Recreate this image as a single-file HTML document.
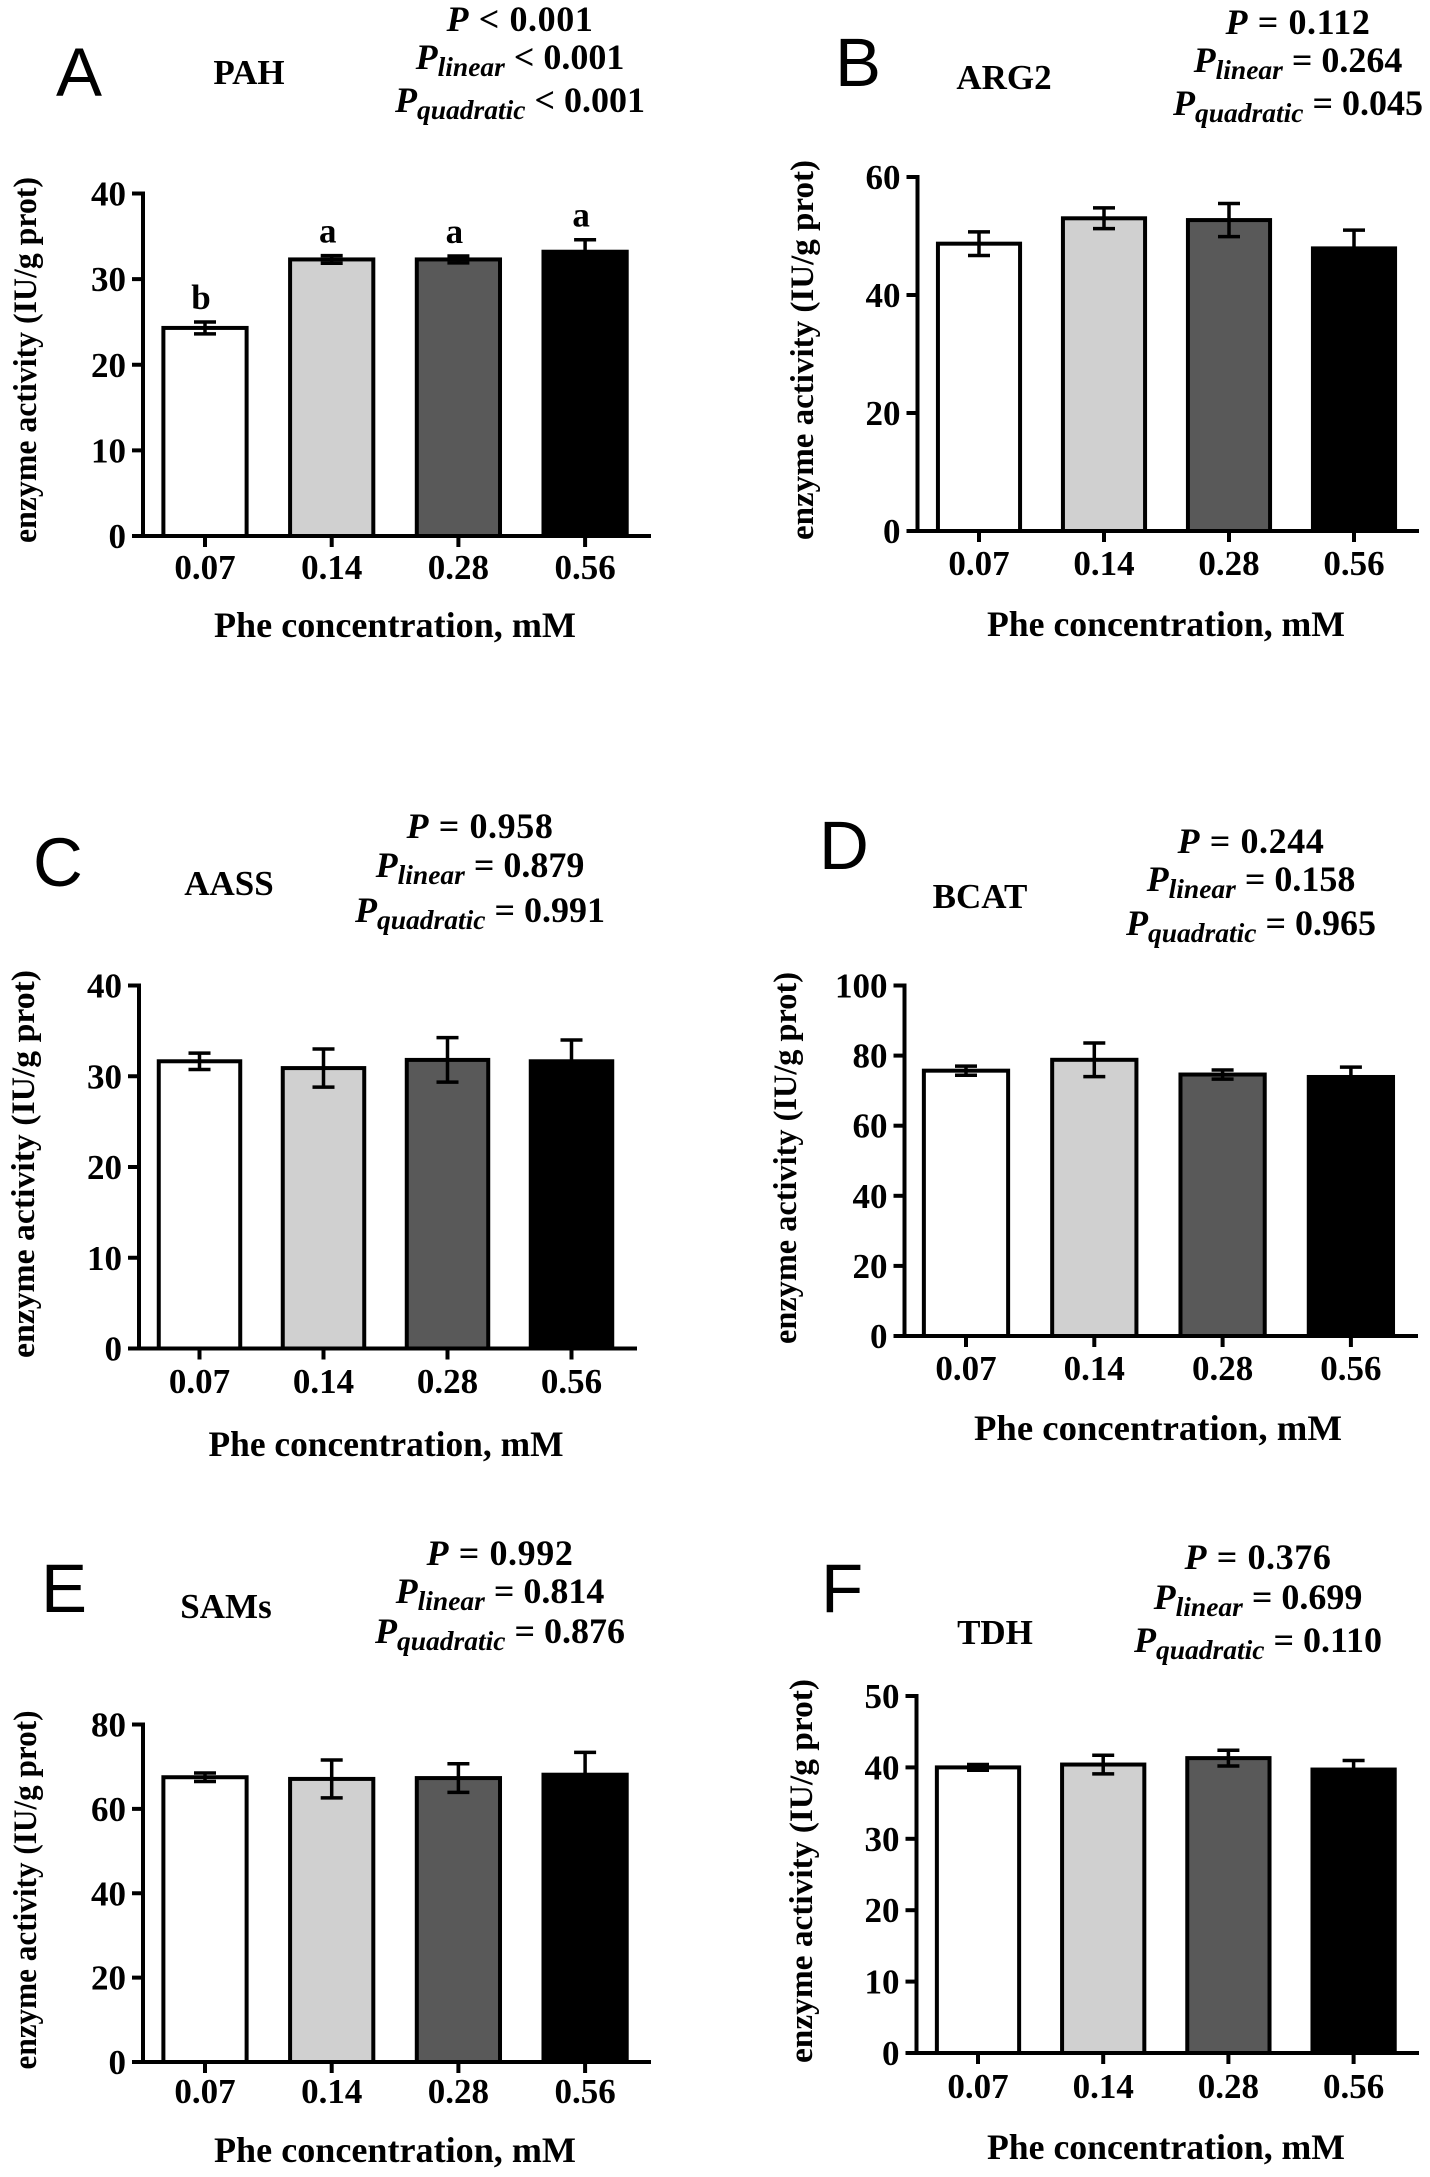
<!DOCTYPE html>
<html lang="en">
<head>
<meta charset="utf-8">
<title>Enzyme activity by Phe concentration</title>
<style>
html,body{margin:0;padding:0;background:#fff;}
svg{display:block;}
text{font-family:"Liberation Serif",serif;font-weight:bold;fill:#000;}
.letter{font-family:"Liberation Sans",sans-serif;font-weight:normal;font-size:69px;}
.gene{font-size:35px;text-anchor:middle;}
.stat{font-size:36px;text-anchor:middle;}
.first{letter-spacing:.6px;}
.it{font-style:italic;}
.sub{font-size:27.5px;font-style:italic;}
.xt{font-size:36px;text-anchor:middle;}
.yt{font-size:33px;text-anchor:middle;}
.tick{font-size:35px;}
</style>
</head>
<body>
<svg id="figure" xmlns="http://www.w3.org/2000/svg" width="1430" height="2177" viewBox="0 0 1430 2177">
<rect width="1430" height="2177" fill="#fff"/>

<g id="panel-a">
<text class="letter" x="56" y="96">A</text>
<text class="gene" x="249" y="84">PAH</text>
<text class="stat first" x="520" y="31"><tspan class="it">P</tspan> &lt; 0.001</text>
<text class="stat" x="520" y="69"><tspan class="it">P</tspan><tspan class="sub" dy="7">linear</tspan><tspan dy="-7"> &lt; 0.001</tspan></text>
<text class="stat" x="520" y="112"><tspan class="it">P</tspan><tspan class="sub" dy="7">quadratic</tspan><tspan dy="-7"> &lt; 0.001</tspan></text>
<text class="xt" x="395" y="637" textLength="362" lengthAdjust="spacingAndGlyphs">Phe concentration, mM</text>
<text class="yt" transform="translate(36 360) rotate(-90)" textLength="366" lengthAdjust="spacingAndGlyphs">enzyme activity (IU/g prot)</text>
</g>

<g id="panel-b">
<text class="letter" x="835" y="86">B</text>
<text class="gene" x="1004" y="89">ARG2</text>
<text class="stat first" x="1298" y="34"><tspan class="it">P</tspan> = 0.112</text>
<text class="stat" x="1298" y="72"><tspan class="it">P</tspan><tspan class="sub" dy="7">linear</tspan><tspan dy="-7"> = 0.264</tspan></text>
<text class="stat" x="1298" y="115"><tspan class="it">P</tspan><tspan class="sub" dy="7">quadratic</tspan><tspan dy="-7"> = 0.045</tspan></text>
<text class="xt" x="1166" y="636" textLength="358" lengthAdjust="spacingAndGlyphs">Phe concentration, mM</text>
<text class="yt" transform="translate(813 350) rotate(-90)" textLength="380" lengthAdjust="spacingAndGlyphs">enzyme activity (IU/g prot)</text>
</g>

<g id="panel-c">
<text class="letter" x="33" y="886">C</text>
<text class="gene" x="229" y="895">AASS</text>
<text class="stat first" x="480" y="838"><tspan class="it">P</tspan> = 0.958</text>
<text class="stat" x="480" y="877"><tspan class="it">P</tspan><tspan class="sub" dy="7">linear</tspan><tspan dy="-7"> = 0.879</tspan></text>
<text class="stat" x="480" y="922"><tspan class="it">P</tspan><tspan class="sub" dy="7">quadratic</tspan><tspan dy="-7"> = 0.991</tspan></text>
<text class="xt" x="386" y="1456" textLength="355" lengthAdjust="spacingAndGlyphs">Phe concentration, mM</text>
<text class="yt" transform="translate(34 1164) rotate(-90)" textLength="388" lengthAdjust="spacingAndGlyphs">enzyme activity (IU/g prot)</text>
</g>

<g id="panel-d">
<text class="letter" x="819" y="869">D</text>
<text class="gene" x="980" y="908">BCAT</text>
<text class="stat first" x="1251" y="853"><tspan class="it">P</tspan> = 0.244</text>
<text class="stat" x="1251" y="891"><tspan class="it">P</tspan><tspan class="sub" dy="7">linear</tspan><tspan dy="-7"> = 0.158</tspan></text>
<text class="stat" x="1251" y="935"><tspan class="it">P</tspan><tspan class="sub" dy="7">quadratic</tspan><tspan dy="-7"> = 0.965</tspan></text>
<text class="xt" x="1158" y="1440" textLength="368" lengthAdjust="spacingAndGlyphs">Phe concentration, mM</text>
<text class="yt" transform="translate(796 1158) rotate(-90)" textLength="372" lengthAdjust="spacingAndGlyphs">enzyme activity (IU/g prot)</text>
</g>

<g id="panel-e">
<text class="letter" x="41" y="1612">E</text>
<text class="gene" x="226" y="1618">SAMs</text>
<text class="stat first" x="500" y="1565"><tspan class="it">P</tspan> = 0.992</text>
<text class="stat" x="500" y="1603"><tspan class="it">P</tspan><tspan class="sub" dy="7">linear</tspan><tspan dy="-7"> = 0.814</tspan></text>
<text class="stat" x="500" y="1643"><tspan class="it">P</tspan><tspan class="sub" dy="7">quadratic</tspan><tspan dy="-7"> = 0.876</tspan></text>
<text class="xt" x="395" y="2162" textLength="362" lengthAdjust="spacingAndGlyphs">Phe concentration, mM</text>
<text class="yt" transform="translate(36 1890) rotate(-90)" textLength="359" lengthAdjust="spacingAndGlyphs">enzyme activity (IU/g prot)</text>
</g>

<g id="panel-f">
<text class="letter" x="821" y="1612">F</text>
<text class="gene" x="995" y="1644">TDH</text>
<text class="stat first" x="1258" y="1569"><tspan class="it">P</tspan> = 0.376</text>
<text class="stat" x="1258" y="1609"><tspan class="it">P</tspan><tspan class="sub" dy="7">linear</tspan><tspan dy="-7"> = 0.699</tspan></text>
<text class="stat" x="1258" y="1652"><tspan class="it">P</tspan><tspan class="sub" dy="7">quadratic</tspan><tspan dy="-7"> = 0.110</tspan></text>
<text class="xt" x="1166" y="2159" textLength="358" lengthAdjust="spacingAndGlyphs">Phe concentration, mM</text>
<text class="yt" transform="translate(812 1871) rotate(-90)" textLength="384" lengthAdjust="spacingAndGlyphs">enzyme activity (IU/g prot)</text>
</g>
</svg>

<script>
// Shared categories
const categories = ['0.07', '0.14', '0.28', '0.56'];

// Panel A: PAH
const pahMeans = [24.3, 32.3, 32.3, 33.2];
const pahErrors = [0.7, 0.45, 0.4, 1.4];
const pahTicks = [0, 10, 20, 30, 40];
const pahLetters = ['b', 'a', 'a', 'a'];

// Panel B: ARG2
const arg2Means = [48.7, 53.0, 52.7, 47.9];
const arg2Errors = [2.0, 1.76, 2.8, 3.1];
const arg2Ticks = [0, 20, 40, 60];

// Panel C: AASS
const aassMeans = [31.65, 30.9, 31.8, 31.65];
const aassErrors = [0.9, 2.1, 2.45, 2.35];
const aassTicks = [0, 10, 20, 30, 40];

// Panel D: BCAT
const bcatMeans = [75.7, 78.8, 74.6, 73.9];
const bcatErrors = [1.3, 4.8, 1.3, 2.8];
const bcatTicks = [0, 20, 40, 60, 80, 100];

// Panel E: SAMs
const samsMeans = [67.5, 67.1, 67.3, 68.1];
const samsErrors = [1.0, 4.5, 3.4, 5.3];
const samsTicks = [0, 20, 40, 60, 80];

// Panel F: TDH
const tdhMeans = [40.0, 40.4, 41.3, 39.7];
const tdhErrors = [0.4, 1.3, 1.1, 1.27];
const tdhTicks = [0, 10, 20, 30, 40, 50];

const fills = ['#ffffff', '#d0d0d0', '#595959', '#000000'];
const NS = 'http://www.w3.org/2000/svg';

function make(tag, attrs, parent) {
  const el = document.createElementNS(NS, tag);
  for (const k in attrs) el.setAttribute(k, attrs[k]);
  parent.appendChild(el);
  return el;
}

function drawPanel(id, layout, means, errors, ticks, letters) {
  const host = document.getElementById('panel-' + id);
  const yMax = Math.max.apply(null, ticks);
  const yScale = v => layout.y0 - (v / yMax) * (layout.y0 - layout.yTop);
  const xScale = i => layout.x0 + i * layout.step;
  const barW = layout.step * 0.645 + 1.5;

  categories.forEach((cat, i) => {
    const cx = xScale(i);
    const rect = make('rect', {
      x: cx - barW / 2, y: yScale(means[i]), width: barW,
      height: layout.y0 - yScale(means[i]),
      fill: fills[i], stroke: '#000', 'stroke-width': 4
    }, host);
    
    

    const hi = yScale(means[i] + errors[i]);
    const lo = yScale(means[i] - errors[i]);
    const err = make('path', {
      d: 'M' + (cx - 11) + ' ' + hi + 'H' + (cx + 11) +
         'M' + cx + ' ' + hi + 'V' + lo +
         'M' + (cx - 11) + ' ' + lo + 'H' + (cx + 11),
      fill: 'none', stroke: '#000', 'stroke-width': 3.5
    }, host);
    
    

    if (letters) {
      const sig = make('text', {
        x: cx - 4, y: hi - 13, 'text-anchor': 'middle', 'font-size': 35
      }, host);
      sig.textContent = letters[i];
      
      
    }

    const xTick = make('line', {
      x1: cx, x2: cx, y1: layout.y0, y2: layout.y0 + 11,
      stroke: '#000', 'stroke-width': 4
    }, host);
    
    

    const xLabel = make('text', {
      class: 'tick', x: cx, y: layout.xLabelY, 'text-anchor': 'middle'
    }, host);
    xLabel.textContent = cat;
    
    
  });

  const yAxis = make('line', {
    x1: layout.axisX, x2: layout.axisX, y1: yScale(yMax) - 2, y2: layout.y0 + 2,
    stroke: '#000', 'stroke-width': 4
  }, host);
  
  

  const xAxis = make('line', {
    x1: layout.axisX - 11, x2: layout.xEnd, y1: layout.y0, y2: layout.y0,
    stroke: '#000', 'stroke-width': 4
  }, host);
  
  

  ticks.forEach(t => {
    const yTick = make('line', {
      x1: layout.axisX - 11, x2: layout.axisX, y1: yScale(t), y2: yScale(t),
      stroke: '#000', 'stroke-width': 4
    }, host);
    
    

    const yLabel = make('text', {
      class: 'tick', x: layout.axisX - 17, y: yScale(t) + 12, 'text-anchor': 'end'
    }, host);
    yLabel.textContent = String(t);
    
    
  });
}

drawPanel('a', {axisX: 143, xEnd: 651, y0: 536, yTop: 193.5, x0: 205, step: 126.7, xLabelY: 579}, pahMeans, pahErrors, pahTicks, pahLetters);
drawPanel('b', {axisX: 917.5, xEnd: 1419, y0: 531, yTop: 177, x0: 979, step: 125, xLabelY: 575}, arg2Means, arg2Errors, arg2Ticks);
drawPanel('c', {axisX: 139, xEnd: 637, y0: 1348.5, yTop: 985.5, x0: 199.5, step: 124, xLabelY: 1393}, aassMeans, aassErrors, aassTicks);
drawPanel('d', {axisX: 904.5, xEnd: 1418, y0: 1336, yTop: 985.5, x0: 966, step: 128.3, xLabelY: 1380}, bcatMeans, bcatErrors, bcatTicks);
drawPanel('e', {axisX: 143, xEnd: 651, y0: 2062, yTop: 1724.5, x0: 205, step: 126.7, xLabelY: 2103}, samsMeans, samsErrors, samsTicks);
drawPanel('f', {axisX: 916.5, xEnd: 1419, y0: 2053, yTop: 1696, x0: 978, step: 125.2, xLabelY: 2098}, tdhMeans, tdhErrors, tdhTicks);
</script>
</body>
</html>
